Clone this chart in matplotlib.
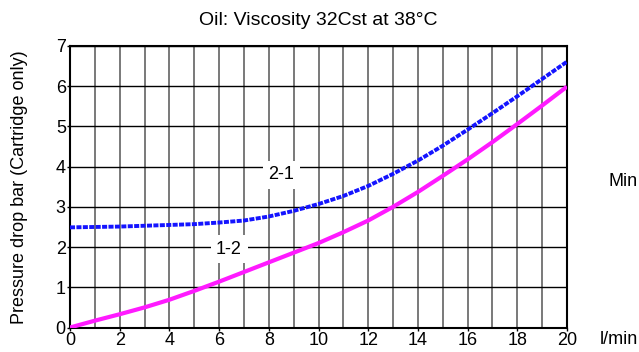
import matplotlib
matplotlib.use("Agg")
from matplotlib import pyplot as plt
import numpy as np

plt.rcParams['font.family'] = ['Liberation Sans', 'DejaVu Sans']

# flow l/min
flow = [0, 1, 2, 3, 4, 5, 6, 7, 8, 9, 10, 11, 12, 13, 14, 15, 16, 17, 18, 19, 20]
# 2-1 direction
dp_21 = [2.49, 2.50, 2.51, 2.53, 2.55, 2.57, 2.61, 2.66, 2.76, 2.90, 3.07, 3.27, 3.52,
         3.82, 4.15, 4.52, 4.92, 5.33, 5.75, 6.18, 6.61]
# 1-2 direction
dp_12 = [0.0, 0.17, 0.33, 0.50, 0.69, 0.91, 1.14, 1.38, 1.62, 1.86, 2.10, 2.37, 2.66,
         3.00, 3.37, 3.77, 4.18, 4.61, 5.06, 5.52, 5.99]

x_ticks = [0, 2, 4, 6, 8, 10, 12, 14, 16, 18, 20]
y_ticks = [0, 1, 2, 3, 4, 5, 6, 7]

fig = plt.figure(figsize=(6.39, 3.52), dpi=100)
ax = fig.add_axes([70/639, 1 - 327.5/352, (567 - 70)/639, (327.5 - 46)/352])

# grid
for xv in range(0, 21):
    ax.axvline(xv, color="#555555", lw=1.1, zorder=1)
for yv in y_ticks:
    ax.axhline(yv, color="black", lw=1.0, zorder=1)

ax.plot(flow, dp_21, color="#1414ff", lw=2.8, linestyle=(0, (1.3, 0.35)), zorder=3)
ax.plot(flow, dp_12, color="#ff1aff", lw=3.0, zorder=3, solid_capstyle="butt")

ax.text(8.5, 3.8, "2-1", fontsize=13, ha="center", va="center", zorder=2,
        bbox=dict(facecolor="white", edgecolor="none", pad=4))
ax.text(6.4, 1.95, "1-2", fontsize=13, ha="center", va="center", zorder=2,
        bbox=dict(facecolor="white", edgecolor="none", pad=4))

ax.set_xlim(0, 20)
ax.set_ylim(0, 7)
ax.set_xticks(x_ticks)
ax.set_yticks(y_ticks)
ax.tick_params(labelsize=13, length=2, width=1, pad=1, color="black")
for s in ax.spines.values():
    s.set_linewidth(1.5)
    s.set_color("black")

ax.set_title("Oil: Viscosity 32Cst at 38°C", fontsize=14, pad=15)
ax.set_ylabel("Pressure drop bar (Cartridge only)", fontsize=13, labelpad=20)
fig.text(600/639, 1 - 340/352, "l/min", fontsize=13, ha="left", va="center")
fig.text(608/639, 1 - 182/352, "Min", fontsize=13, ha="left", va="center")

fig.savefig("out.png", dpi=100)
